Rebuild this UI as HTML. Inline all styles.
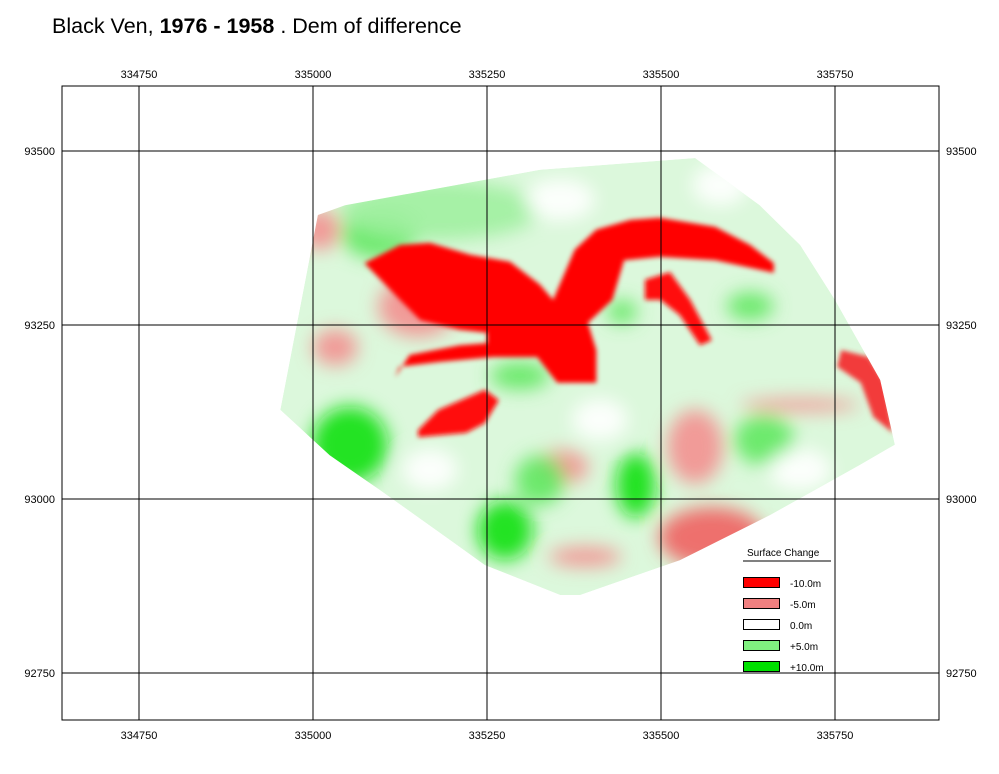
<!DOCTYPE html>
<html><head><meta charset="utf-8">
<style>
html,body{margin:0;padding:0;background:#fff;}
svg{display:block;font-family:"Liberation Sans",Arial,sans-serif;}
</style></head>
<body>
<svg id="map" width="999" height="774" viewBox="0 0 999 774" xmlns="http://www.w3.org/2000/svg">
<defs>
<filter id="blur" x="-20%" y="-20%" width="140%" height="140%"><feGaussianBlur stdDeviation="2.5"/></filter>
<filter id="blur2" x="-30%" y="-30%" width="160%" height="160%"><feGaussianBlur stdDeviation="9"/></filter>
<clipPath id="hullclip"><path id="hullclipPath" d=""/></clipPath>
</defs>
<text x="52" y="33" font-size="21.5" fill="#000">Black Ven,  <tspan font-weight="bold">1976 - 1958</tspan>  . Dem of difference</text>
<rect x="62" y="86" width="877" height="634" fill="none" stroke="#000" stroke-width="1"/>
<g id="raster" clip-path="url(#hullclip)"></g>
<g id="grid"></g>
<g id="labels"></g>
<g id="legend"></g>
</svg>
<script>
// Axis data (map coordinates, metres)
const eastTicks = [334750, 335000, 335250, 335500, 335750];
const northTicks = [93500, 93250, 93000, 92750];
// Survey hull (easting, northing)
const hullE = [334953,335007,335046,335326,335549,335642,335700,335750,335815,335836,335786,335657,335527,335384,335355,335247,335197,335096,335024];
const hullN = [93128,93408,93422,93473,93490,93422,93365,93286,93171,93078,93049,92977,92912,92862,92862,92905,92941,93013,93063];
// Main loss band (offsets from 335000 E / 93000 N in metres)
const bandE = [74,125,168,226,283,326,345,376,407,456,498,578,628,662,662,578,498,447,430,395,407,407,351,322,259,182,124,118,139,211,250,250,211,154,125];
const bandN = [339,365,368,351,341,308,286,358,387,401,404,391,365,339,325,343,348,343,286,253,214,167,167,204,204,197,190,175,207,221,224,239,243,257,286];
const lowE = [151,180,247,267,247,220,151];
const lowN = [99,128,157,142,109,95,89];
const arcE = [477,513,542,573,556,527,499,477];
const arcN = [315,326,286,228,221,264,286,286];
const rightE = [759,799,822,833,805,787,753];
const rightN = [214,204,167,95,118,167,190];
// Soft blobs: centre offsets, radii (m), change value (m)
const blobE = [573,549,151,32,358,391,700,10,53,464,276,648,444,628,297,96,182,326,412,168,700,355,585];
const blobN = [-55,75,276,218,46,-83,135,387,78,20,-45,85,269,277,177,379,415,27,114,42,42,430,451];
const blobRx = [76,40,57,32,37,52,86,29,55,29,40,43,22,34,43,55,144,36,40,40,45,50,40];
const blobRy = [43,53,43,26,24,14,9,29,55,47,43,36,17,20,20,34,43,36,30,30,30,30,30];
const blobVal = [-6,-5,-5,-5,-4,-4,-4,-4,10,10,10,7,8,8,6,8,5,6,0,0,0,0,0];
// Legend
const legendLabels = ["-10.0m","-5.0m","0.0m","+5.0m","+10.0m"];
const legendVals = [-10,-5,0,5,10];

const X0=62,X1=939,Y0=86,Y1=720;
const pxPerM = 174/250;
function sx(e){return 139 + (e-334750)*pxPerM;}
function sy(n){return 151 + (93500-n)*pxPerM;}
function color(v){
  if(v<=-10) return "#ff0000";
  if(v<=-6) return "#f06060";
  if(v<0) return "#f39090";
  if(v===0) return "#ffffff";
  if(v<=5) return "#a0f0a0";
  if(v<10) return "#60e860";
  return "#10e010";
}
function legendColor(v){
  return ({"-10":"#ff0000","-5":"#f08080","0":"#ffffff","5":"#80f080","10":"#00e000"})[v];
}
const NS="http://www.w3.org/2000/svg";
function el(tag,attrs,parent){const e=document.createElementNS(NS,tag);for(const k in attrs)e.setAttribute(k,attrs[k]);parent.appendChild(e);return e;}

let hd = hullE.map((e,i)=>(i?"L":"M")+sx(e).toFixed(1)+","+sy(hullN[i]).toFixed(1)).join(" ")+"Z";
document.getElementById("hullclipPath").setAttribute("d",hd);
const raster=document.getElementById("raster");
const base=el("path",{d:hd,fill:"#dcf8dc"},raster);


const soft=el("g",{filter:"url(#blur2)"},raster);
for(let i=0;i<blobE.length;i++){
  const c=el("ellipse",{cx:sx(335000+blobE[i]),cy:sy(93000+blobN[i]),rx:blobRx[i]*pxPerM,ry:blobRy[i]*pxPerM,fill:color(blobVal[i]),opacity:0.9},soft);
  
  
}
const g=el("g",{filter:"url(#blur)"},raster);
function poly(E,N,name,fill){
  const d=E.map((e,i)=>(i?"L":"M")+sx(335000+e).toFixed(1)+","+sy(93000+N[i]).toFixed(1)).join(" ")+"Z";
  const p=el("path",{d:d,fill:fill},g);
  
  
}
poly(bandE,bandN,"main-loss-band","#ff0000");
poly(lowE,lowN,"lower-loss-area","#ff0a0a");
poly(arcE,arcN,"loss-arc","#ff1010");
poly(rightE,rightN,"right-loss-area","#f23a3a");

const grid=document.getElementById("grid");
eastTicks.forEach(t=>{const l=el("line",{x1:sx(t),x2:sx(t),y1:Y0,y2:Y1,stroke:"#000","stroke-width":1},grid);

});
northTicks.forEach(t=>{const l=el("line",{x1:X0,x2:X1,y1:sy(t),y2:sy(t),stroke:"#000","stroke-width":1},grid);

});
const lab=document.getElementById("labels");
eastTicks.forEach(t=>{
  [78,739].forEach(y=>{const tx=el("text",{x:sx(t),y:y,"font-size":11,"text-anchor":"middle"},lab);tx.textContent=t;
  
  });
});
northTicks.forEach(t=>{
  const a=el("text",{x:55,y:sy(t)+4,"font-size":11,"text-anchor":"end"},lab);a.textContent=t;
  
  
  const b=el("text",{x:946,y:sy(t)+4,"font-size":11,"text-anchor":"start"},lab);b.textContent=t;
  
  
});
const lg=document.getElementById("legend");
const lt=el("text",{x:747,y:556,"font-size":10},lg);lt.textContent="Surface Change";


const ll=el("line",{x1:743,x2:831,y1:561,y2:561,stroke:"#000"},lg);


legendLabels.forEach((s,i)=>{
  const y=577+i*21;
  const r=el("rect",{x:743.5,y:y+0.5,width:36,height:10,fill:legendColor(legendVals[i]),stroke:"#000"},lg);
  
  
  const t=el("text",{x:790,y:y+10,"font-size":10},lg);t.textContent=s;
  
  
});
</script>
</body></html>
